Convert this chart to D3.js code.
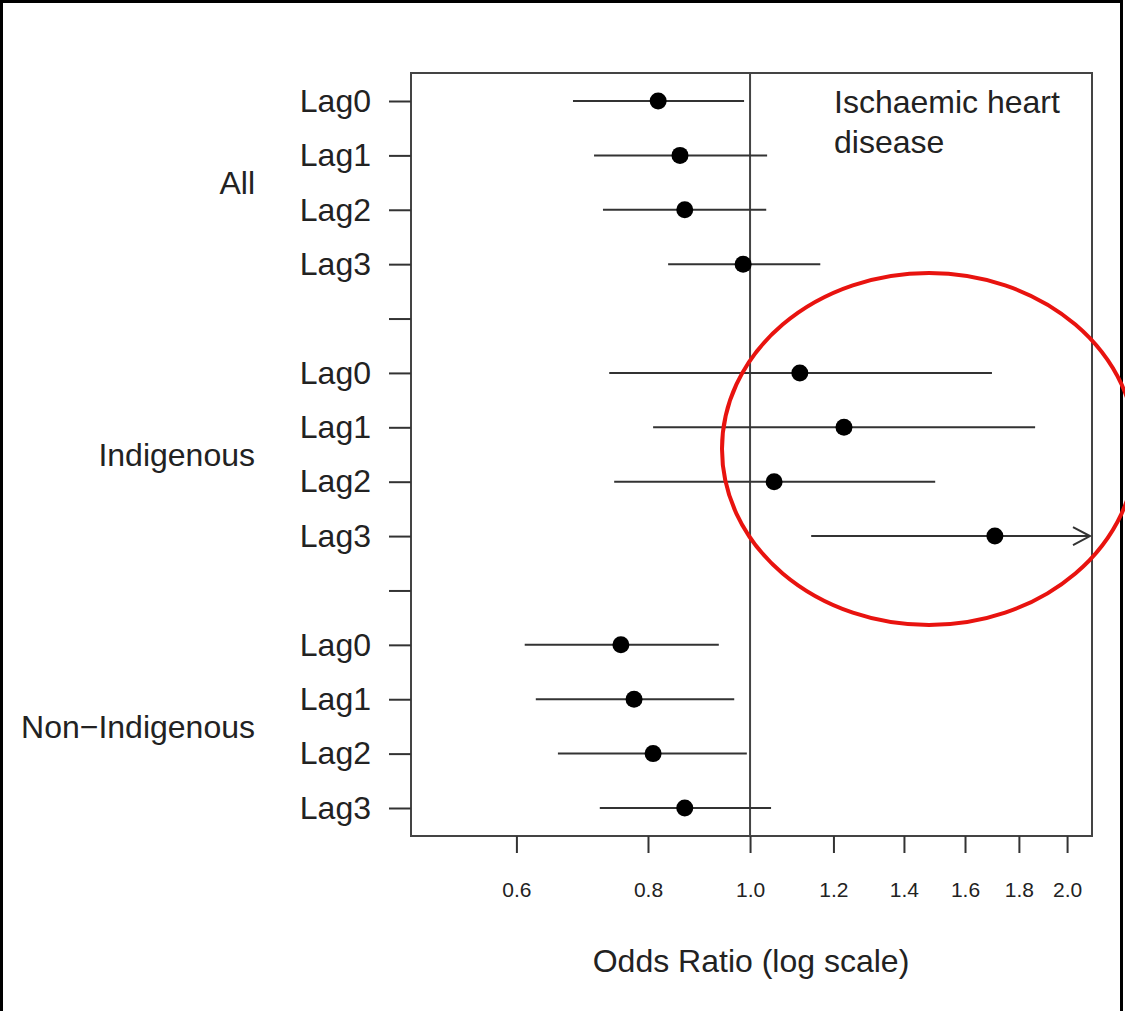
<!DOCTYPE html>
<html>
<head>
<meta charset="utf-8">
<script src="https://cdn.jsdelivr.net/npm/d3@7"></script>
<style>
  html, body { margin: 0; padding: 0; background: #fff; }
  svg { display: block; font-family: "Liberation Sans", Arial, Helvetica, sans-serif; }
</style>
</head>
<body>
<div id="chart"></div>
<script>
// Forest plot: odds ratios (log scale) for ischaemic heart disease by lag
const groups = ["All", "Indigenous", "Non\u2212Indigenous"];
const lags = ["Lag0", "Lag1", "Lag2", "Lag3"];

// Point estimates and 95% CI per group, Lag0..Lag3
const orAll = [0.818, 0.858, 0.867, 0.985];
const lowAll = [0.679, 0.711, 0.725, 0.836];
const highAll = [0.987, 1.038, 1.036, 1.166];

const orIndig = [1.115, 1.228, 1.054, 1.708];
const lowIndig = [0.735, 0.809, 0.743, 1.143];
const highIndig = [1.697, 1.865, 1.499, null]; // null: upper limit beyond the axis

const orNonIndig = [0.754, 0.776, 0.809, 0.867];
const lowNonIndig = [0.611, 0.626, 0.657, 0.720];
const highNonIndig = [0.934, 0.966, 0.993, 1.047];

const xTicks = [0.6, 0.8, 1.0, 1.2, 1.4, 1.6, 1.8, 2.0];
const plotTitle = ["Ischaemic heart", "disease"];
const xTitle = "Odds Ratio (log scale)";

const W = 1125, H = 1011;
const box = { left: 411, right: 1092, top: 73, bottom: 836 };

const svg = d3.select("#chart").append("svg")
  .attr("width", W).attr("height", H);

// outer frame
svg.append("rect")
  .attr("x", 1.5).attr("y", 1.5)
  .attr("width", 1120).attr("height", H + 4)
  .attr("fill", "#fff").attr("stroke", "#000").attr("stroke-width", 3);

const x = d3.scaleLog().domain([0.4765, 2.112]).range([box.left, box.right]);

// 14 row slots: 4 lags per group with an empty slot between groups
const rowIds = d3.range(14);
const y = d3.scalePoint().domain(rowIds).range([101, 808]);

const rows = [];
const sets = [
  [orAll, lowAll, highAll],
  [orIndig, lowIndig, highIndig],
  [orNonIndig, lowNonIndig, highNonIndig]
];
sets.forEach((s, g) => {
  lags.forEach((lag, i) => {
    rows.push({ group: g, lag, slot: g * 5 + i, or: s[0][i], lo: s[1][i], hi: s[2][i] });
  });
});

const ink = "#333";
const labelSize = 32;

// plot box
svg.append("rect")
  .attr("x", box.left).attr("y", box.top)
  .attr("width", box.right - box.left).attr("height", box.bottom - box.top)
  .attr("fill", "none").attr("stroke", "#444").attr("stroke-width", 2);

// reference line at OR = 1
svg.append("line")
  .attr("x1", x(1)).attr("x2", x(1))
  .attr("y1", box.top).attr("y2", box.bottom)
  .attr("stroke", "#444").attr("stroke-width", 2);

// x axis
const xAxis = d3.axisBottom(x).tickValues(xTicks).tickFormat(d3.format(".1f"))
  .tickSize(17).tickPadding(29);
const gx = svg.append("g").attr("transform", `translate(0,${box.bottom})`).call(xAxis);
gx.select(".domain").remove();
gx.selectAll(".tick line").attr("stroke", ink).attr("stroke-width", 2);
gx.selectAll(".tick text").attr("font-size", 21).attr("fill", "#222")
  .attr("font-family", "'Liberation Sans', Arial, sans-serif");

// y axis: ticks at every slot, labels only for lag rows
const slotLabel = {};
rows.forEach(r => { slotLabel[r.slot] = r.lag; });
const yAxis = d3.axisLeft(y).tickValues(rowIds)
  .tickFormat(d => slotLabel[d] || "")
  .tickSize(22).tickPadding(18);
const gy = svg.append("g").attr("transform", `translate(${box.left},0)`).call(yAxis);
gy.select(".domain").remove();
gy.selectAll(".tick line").attr("stroke", ink).attr("stroke-width", 2);
gy.selectAll(".tick text").attr("font-size", labelSize).attr("fill", "#222")
  .attr("font-family", "'Liberation Sans', Arial, sans-serif");

// group labels
groups.forEach((g, gi) => {
  const yc = (y(gi * 5 + 1) + y(gi * 5 + 2)) / 2;
  svg.append("text")
    .attr("x", 255).attr("y", yc)
    .attr("dy", "0.35em")
    .attr("text-anchor", "end")
    .attr("font-size", labelSize).attr("fill", "#222")
    .text(g);
});

// confidence intervals
const ci = svg.append("g");
rows.forEach(r => {
  const yy = y(r.slot);
  const xEnd = r.hi == null ? box.right - 2 : x(r.hi);
  ci.append("line")
    .attr("x1", x(r.lo)).attr("x2", xEnd)
    .attr("y1", yy).attr("y2", yy)
    .attr("stroke", ink).attr("stroke-width", 2);
  if (r.hi == null) {
    ci.append("path")
      .attr("d", `M${xEnd - 17},${yy - 9} L${xEnd},${yy} L${xEnd - 17},${yy + 9}`)
      .attr("fill", "none").attr("stroke", ink).attr("stroke-width", 2);
  }
});

// point estimates
svg.append("g").selectAll("circle")
  .data(rows).join("circle")
  .attr("cx", d => x(d.or)).attr("cy", d => y(d.slot))
  .attr("r", 8.5).attr("fill", "#000");

// panel title
svg.append("text")
  .attr("x", 834).attr("y", 113)
  .attr("font-size", labelSize).attr("fill", "#222")
  .selectAll("tspan").data(plotTitle).join("tspan")
  .attr("x", 834).attr("dy", (d, i) => i === 0 ? 0 : 40)
  .text(d => d);

// x axis title
svg.append("text")
  .attr("x", 751).attr("y", 972)
  .attr("text-anchor", "middle")
  .attr("font-size", labelSize).attr("fill", "#222")
  .text(xTitle);

// highlight ellipse around the Indigenous estimates
svg.append("ellipse")
  .attr("cx", 929).attr("cy", 449)
  .attr("rx", 207).attr("ry", 176)
  .attr("fill", "none").attr("stroke", "#e8130f").attr("stroke-width", 4);
</script>
</body>
</html>
